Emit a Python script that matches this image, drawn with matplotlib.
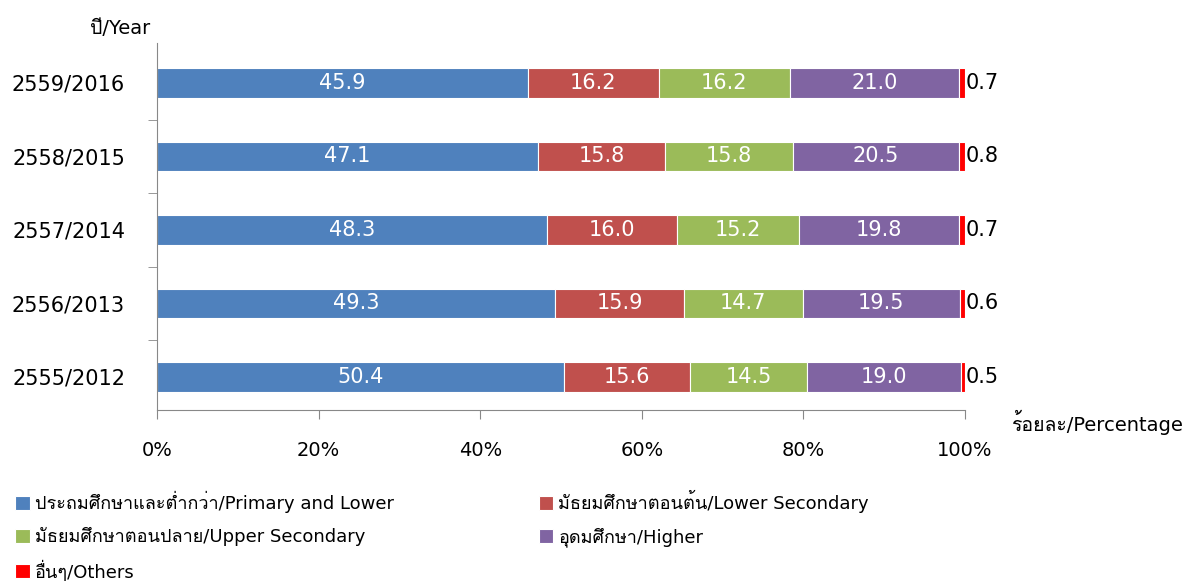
import matplotlib
matplotlib.use("Agg")
import matplotlib.pyplot as plt
from matplotlib import font_manager
from matplotlib.ft2font import FT2Font
import numpy as np


def find_thai_font():
    # look for any installed font that has Thai glyphs
    for f in font_manager.fontManager.ttflist:
        try:
            if ord('ป') in FT2Font(f.fname).get_charmap():
                return f.name
        except Exception:
            continue
    return None


thai = find_thai_font()
fams = ['DejaVu Sans'] if thai is None else ['DejaVu Sans', thai]
plt.rcParams['font.family'] = fams

years = ['2555/2012', '2556/2013', '2557/2014', '2558/2015', '2559/2016']
primary = [50.4, 49.3, 48.3, 47.1, 45.9]
lower_sec = [15.6, 15.9, 16.0, 15.8, 16.2]
upper_sec = [14.5, 14.7, 15.2, 15.8, 16.2]
higher = [19.0, 19.5, 19.8, 20.5, 21.0]
others = [0.5, 0.6, 0.7, 0.8, 0.7]

names = ['ประถมศึกษาและต่ำกว่า/Primary and Lower',
         'มัธยมศึกษาตอนต้น/Lower Secondary',
         'มัธยมศึกษาตอนปลาย/Upper Secondary',
         'อุดมศึกษา/Higher',
         'อื่นๆ/Others']
colors = ['#4F81BD', '#C0504D', '#9BBB59', '#8064A2', '#FF0000']
series = [primary, lower_sec, upper_sec, higher, others]

fig = plt.figure(figsize=(11.86, 5.83), dpi=100)
ax = fig.add_axes([157 / 1186, 1 - 410 / 583, 808 / 1186, 367.5 / 583])

y = np.arange(len(years))
left = np.zeros(len(years))
bars = []
for i, (vals, c, n) in enumerate(zip(series, colors, names)):
    vals = np.array(vals)
    b = ax.barh(y, vals, left=left, height=0.4, color=c, label=n,
                edgecolor='white', linewidth=0.8)
    bars.append(b)
    for yy, l, v in zip(y, left, vals):
        if i < 4:
            ax.text(l + v / 2, yy, f'{v:.1f}', ha='center', va='center',
                    color='white', fontsize=15)
        else:
            ax.text(l + v + 0.1, yy, f'{v:.1f}', ha='left', va='center',
                    color='black', fontsize=15)
    left = left + vals

ax.set_xlim(0, 100)
ax.set_ylim(-0.45, len(years) - 0.45)
ax.set_xticks(np.arange(0, 101, 20))
ax.set_xticklabels([f'{t}%' for t in range(0, 101, 20)], fontsize=14)
ax.tick_params(axis='x', direction='out', length=6.5, color='#888888', pad=16)
ax.set_yticks(y)
ax.set_yticklabels(years, fontsize=15)
ax.set_yticks(np.arange(0.5, len(years) - 1, 1), minor=True)
ax.tick_params(axis='y', which='major', length=0, pad=23)
ax.tick_params(axis='y', which='minor', length=6.5, color='#888888')
for s in ['top', 'right']:
    ax.spines[s].set_visible(False)
for s in ['left', 'bottom']:
    ax.spines[s].set_color('#888888')

fig.text(90 / 1186, 1 - 28 / 583, 'ปี/Year', fontsize=14, ha='left', va='center')
fig.text(1183 / 1186, 1 - 422 / 583, 'ร้อยละ/Percentage', fontsize=14,
         ha='right', va='center')

order = [0, 2, 4, 1, 3]
leg = fig.legend([bars[i] for i in order], [names[i] for i in order],
                 loc='upper left', bbox_to_anchor=(8 / 1186, 1 - 483 / 583),
                 ncol=2, frameon=False, fontsize=13, handlelength=0.8,
                 handleheight=0.8, handletextpad=0.3, columnspacing=8,
                 labelspacing=0.78, borderaxespad=0)

fig.savefig('out.png', dpi=100)
